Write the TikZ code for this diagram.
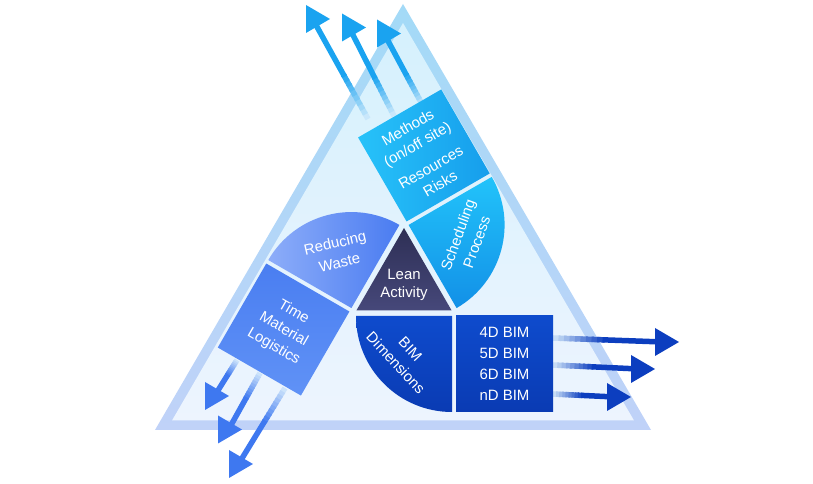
\documentclass[tikz,border=0pt]{standalone}
\usepackage{fontspec}
\setmainfont{Liberation Sans}
\usetikzlibrary{calc}

\definecolor{rimtop}{HTML}{A3DAF7}
\definecolor{rimbot}{HTML}{C0D2F8}
\definecolor{intop}{HTML}{D5F1FD}
\definecolor{inbot}{HTML}{EDF4FE}
\definecolor{leantop}{HTML}{2E2F55}
\definecolor{leanbot}{HTML}{46487A}
\definecolor{bimA}{HTML}{0E4BCD}
\definecolor{bimB}{HTML}{0A3BB3}
\definecolor{methA}{HTML}{27C2F9}
\definecolor{methB}{HTML}{169EEC}
\definecolor{schedA}{HTML}{22C3FA}
\definecolor{schedB}{HTML}{1290E7}
\definecolor{wasteA}{HTML}{8DADF9}
\definecolor{wasteB}{HTML}{4A7CF1}
\definecolor{timeA}{HTML}{4A7EF1}
\definecolor{timeB}{HTML}{6092F6}
\definecolor{arrtop}{HTML}{1AA3F0}
\definecolor{arrbim}{HTML}{0C3EBF}
\definecolor{arrtime}{HTML}{3E78F0}
\definecolor{fadeto}{HTML}{DCEFFC}

\tikzset{
  lbl/.style={text=white,align=center,inner sep=0pt,font=\fontsize{15}{20}\selectfont},
}

% colour, tail, end, head (middle of its flat side)
\newcommand{\flowarrow}[4]{%
  \foreach \k [evaluate=\k as \p using {int((\k+1)*100/10)}] in {0,...,8}
    \draw[line width=5.5bp,color=#1!\p!fadeto] ($(#2)!\k/20!(#3)$) -- ($(#2)!\k/20+1.4/20!(#3)$);
  \draw[line width=5.5bp,color=#1] ($(#2)!0.45!(#3)$) -- (#3);
  \fill[#1] (#4) ++(0,14) -- ++(24,-14) -- ++(-24,-14) -- cycle;
}

\begin{document}
\begin{tikzpicture}[x=1bp,y=1bp,line join=round]
  \useasboundingbox (0,0) rectangle (813,484);
  % frame
  \shade[top color=rimtop,bottom color=rimbot] (403,480) -- (651,54) -- (155,54) -- cycle;
  \shade[top color=intop,bottom color=inbot] (403,461) -- (634,63.5) -- (172,63.5) -- cycle;

  % arrows out of the boxes
  \coordinate (mt1) at (368,365); \coordinate (me1) at (316,459); \coordinate (mh1) at (306,465);
  \coordinate (mt2) at (394,368); \coordinate (me2) at (352,451); \coordinate (mh2) at (342,456.5);
  \coordinate (mt3) at (423,378); \coordinate (me3) at (387,445); \coordinate (mh3) at (377,450.5);
  \coordinate (bt1) at (553,146); \coordinate (be1) at (663,142); \coordinate (bh1) at (655,142);
  \coordinate (bt2) at (553,119); \coordinate (be2) at (639,115); \coordinate (bh2) at (631,115);
  \coordinate (bt3) at (553,90);  \coordinate (be3) at (615,87);  \coordinate (bh3) at (607,87);
  \coordinate (lt1) at (237,124); \coordinate (le1) at (217,92);  \coordinate (lh1) at (205,88);
  \coordinate (lt2) at (260,111); \coordinate (le2) at (230,57);  \coordinate (lh2) at (218,54.5);
  \coordinate (lt3) at (285,96);  \coordinate (le3) at (241,24);  \coordinate (lh3) at (229,20);
  \foreach \i in {1,2,3}{
    \flowarrow{arrtop}{mt\i}{me\i}{mh\i}
    \flowarrow{arrbim}{bt\i}{be\i}{bh\i}
    \flowarrow{arrtime}{lt\i}{le\i}{lh\i}
  }

  % lean core
  \begin{scope}[shift={(404,201)}]
    \shade[top color=leantop,bottom color=leanbot] (90:55) -- (210:55) -- (330:55) -- cycle;
    \node[lbl,font=\fontsize{15}{18}\selectfont] (lean) at (0,-2) {Lean\\Activity};
  \end{scope}

  % BIM
  \begin{scope}[shift={(404,201)}]
    \shade[top color=bimA,bottom color=bimB] (48,-33) -- (-48,-33) arc[start angle=180,end angle=270,radius=96] -- cycle;
    \shade[top color=bimA,bottom color=bimB] (52,-33) rectangle (149,-129);
    \node[lbl,rotate=-47] (bimdim) at (-1,-73) {BIM\\Dimensions};
    \node[lbl,font=\fontsize{15}{21}\selectfont] (bimlist) at (100.5,-81) {4D BIM\\5D BIM\\6D BIM\\nD BIM};
  \end{scope}

  % scheduling / methods
  \begin{scope}[shift={(404,201)},rotate=120]
    \shade[top color=schedA,bottom color=schedB] (48,-33) -- (-48,-33) arc[start angle=180,end angle=270,radius=96] -- cycle;
    \shade[left color=methA,right color=methB] (52,-33) rectangle (149,-129);
    \node[lbl,rotate=70] (sched) at (7,-77) {Scheduling\\Process};
    \node[lbl,rotate=30,font=\fontsize{15}{19}\selectfont] (methods) at (100.5,-81) {Methods\\(on/off site)\\[8bp]Resources\\Risks};
  \end{scope}

  % waste / logistics
  \begin{scope}[shift={(404,201)},rotate=240]
    \shade[left color=wasteA,right color=wasteB] (48,-33) -- (-48,-33) arc[start angle=180,end angle=270,radius=96] -- cycle;
    \shade[top color=timeA,bottom color=timeB] (52,-33) rectangle (149,-129);
    \node[lbl,rotate=13] (waste) at (7,-73) {Reducing\\Waste};
    \node[lbl,rotate=-30] (logistics) at (100.5,-81) {Time\\Material\\Logistics};
  \end{scope}
\end{tikzpicture}
\end{document}
